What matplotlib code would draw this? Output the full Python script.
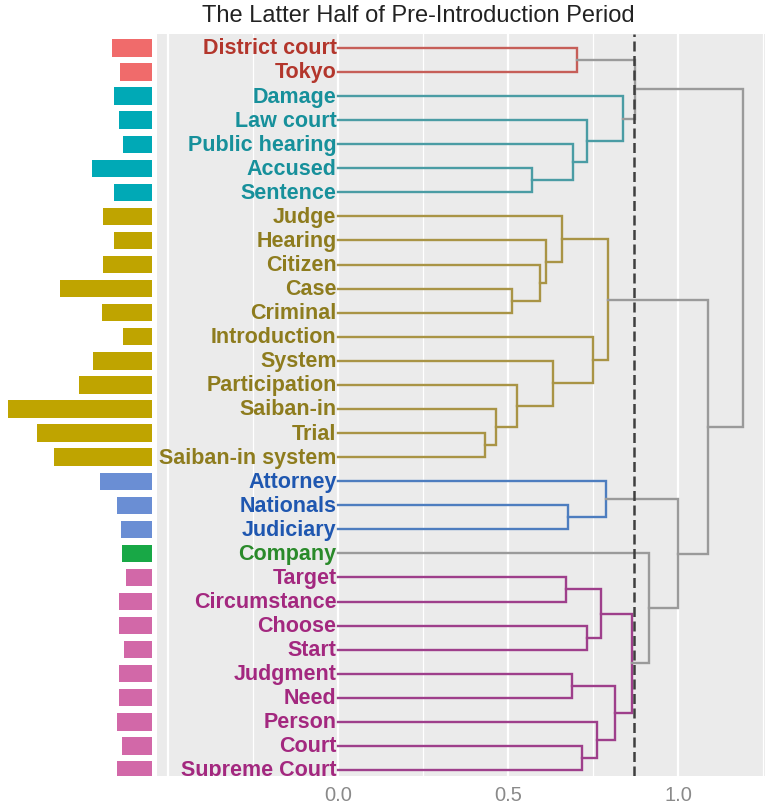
import matplotlib
matplotlib.use("Agg")
import matplotlib.pyplot as plt

# ---------------- data ----------------
labels = ["District court", "Tokyo", "Damage", "Law court", "Public hearing",
          "Accused", "Sentence", "Judge", "Hearing", "Citizen", "Case",
          "Criminal", "Introduction", "System", "Participation", "Saiban-in",
          "Trial", "Saiban-in system", "Attorney", "Nationals", "Judiciary",
          "Company", "Target", "Circumstance", "Choose", "Start", "Judgment",
          "Need", "Person", "Court", "Supreme Court"]

frequency = [40, 32, 38, 33, 29, 60, 38, 49, 38, 49, 92, 50, 29, 59, 73,
             144, 115, 98, 52, 35, 31, 30, 26, 33, 33, 28, 33, 33, 35, 30, 35]

cluster = [0, 0, 1, 1, 1, 1, 1, 2, 2, 2, 2, 2, 2, 2, 2, 2, 2, 2,
           3, 3, 3, 4, 5, 5, 5, 5, 5, 5, 5, 5, 5]

# merges: children are leaf names or "m<k>" for earlier merges
merge_left = ["District court", "Accused", "Public hearing", "Law court", "Damage",
              "m0", "Case", "Citizen", "Hearing", "Judge", "Trial", "Saiban-in",
              "Participation", "System", "Introduction", "m9", "Nationals",
              "Attorney", "Target", "Choose", "m18", "Judgment", "Court",
              "Person", "m21", "m20", "Company", "m17", "m15", "m5"]
merge_right = ["Tokyo", "Sentence", "m1", "m2", "m3", "m4", "Criminal", "m6",
               "m7", "m8", "Saiban-in system", "m10", "m11", "m12", "m13",
               "m14", "Judiciary", "m16", "Circumstance", "Start", "m19",
               "Need", "Supreme Court", "m22", "m23", "m24", "m25", "m26",
               "m27", "m28"]
merge_height = [0.702, 0.570, 0.692, 0.733, 0.839, 0.874, 0.511, 0.594, 0.612,
                0.659, 0.432, 0.465, 0.527, 0.633, 0.750, 0.794, 0.677, 0.788,
                0.670, 0.733, 0.774, 0.688, 0.718, 0.761, 0.815, 0.865, 0.915,
                1.000, 1.088, 1.190]

cut_height = 0.872
x_ticks = [0.0, 0.5, 1.0]
x_ticklabels = ["0.0", "0.5", "1.0"]
title = "The Latter Half of Pre-Introduction Period"

# ---------------- styles ----------------
bar_colors = ["#F06B6B", "#00A9B6", "#BFA400", "#6A8ED4", "#18A846", "#D268A8"]
label_colors = ["#B3362C", "#17909B", "#8E7C1E", "#1F57B0", "#2A8A2A", "#A3287F"]
branch_colors = ["#C65E58", "#4A9CA4", "#A99445", "#4D7DBF", "#2A8A2A", "#9E3F8B"]
grey_branch = "#9A9A9A"

plt.rcParams['font.family'] = ['Liberation Sans', 'DejaVu Sans']

W, H = 765, 810
fig = plt.figure(figsize=(W / 100, H / 100), dpi=100)

panel_left, panel_right, panel_top, panel_bottom = 157, 765, 34, 776
ax = fig.add_axes([panel_left / W, 1 - panel_bottom / H,
                   (panel_right - panel_left) / W, (panel_bottom - panel_top) / H])
axb = fig.add_axes([0 / W, 1 - panel_bottom / H, 152 / W, (panel_bottom - panel_top) / H])

n = len(labels)
ylim = (n - 1 + 0.25, -0.58)

# ---------------- main panel ----------------
ax.set_facecolor("#EBEBEB")
for s in ax.spines.values():
    s.set_visible(False)
ax.set_xlim(-0.532, 1.256)
ax.set_ylim(*ylim)
for gx in [-0.5, 0.0, 0.5, 1.0]:
    ax.axvline(gx, color="white", lw=1.6, zorder=0)
for gx in [-0.25, 0.25, 0.75, 1.25]:
    ax.axvline(gx, color="white", lw=0.9, zorder=0)

pos = {name: i for i, name in enumerate(labels)}
hgt = {name: 0.0 for name in labels}
clu = {name: cluster[i] for i, name in enumerate(labels)}
for k, (a, b, h) in enumerate(zip(merge_left, merge_right, merge_height)):
    ya, yb = pos[a], pos[b]
    same = (clu[a] is not None and clu[a] == clu[b])
    col = branch_colors[clu[a]] if (same and h < cut_height) else grey_branch
    ax.plot([hgt[a], h, h, hgt[b]], [ya, ya, yb, yb], color=col, lw=1.7,
            solid_joinstyle="miter", zorder=2)
    name = "m%d" % k
    pos[name] = (ya + yb) / 2
    hgt[name] = h
    clu[name] = clu[a] if same else None

ax.axvline(cut_height, color="#3F3F3F", lw=1.8, ls=(0, (4, 1.8)), zorder=3)

for i, lab in enumerate(labels):
    ax.text(-0.004, i + 0.04, lab, ha="right", va="center", fontsize=15.5,
            fontweight="bold", color=label_colors[cluster[i]], clip_on=True,
            zorder=4)

ax.set_yticks([])
ax.set_xticks(x_ticks)
ax.set_xticklabels(x_ticklabels, fontsize=14.5, color="#8A8A8A")
ax.tick_params(axis="x", length=0, pad=7)

# ---------------- frequency bars ----------------
axb.barh(range(n), frequency, height=0.72,
         color=[bar_colors[c] for c in cluster])
axb.set_xlim(152, 0)
axb.set_ylim(*ylim)
axb.axis("off")

fig.text(418 / W, 1 - 16 / H, title, ha="center", va="center",
         fontsize=17, color="#222222")

fig.savefig("out.png", dpi=100)
